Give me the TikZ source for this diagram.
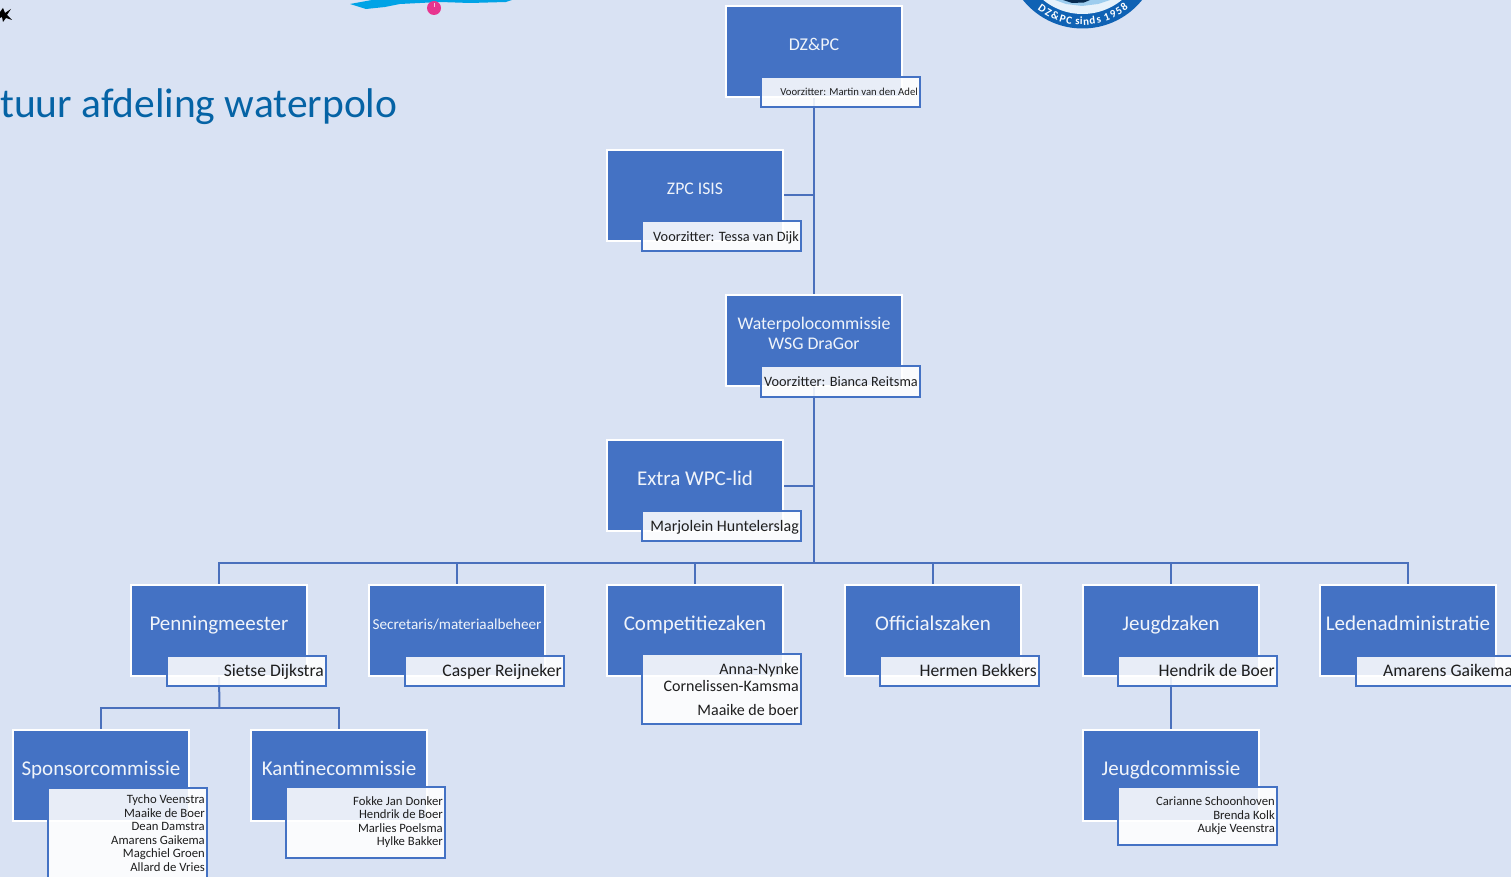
\documentclass[tikz,border=0pt]{standalone}
\usepackage{fontspec}
\setmainfont{Carlito}
\usetikzlibrary{backgrounds,calc}
\definecolor{pagebg}{HTML}{D9E2F3}
\definecolor{orgblue}{HTML}{4472C4}
\definecolor{titleblue}{HTML}{0563A5}
\definecolor{lineblue}{HTML}{4A70BC}
\definecolor{inktext}{HTML}{1E1E1E}
\definecolor{brush}{HTML}{00A3E6}
\definecolor{pinkdot}{HTML}{E8358F}
\definecolor{ringblue}{HTML}{0F62B4}
\definecolor{logolight}{HTML}{E6F2FB}
\definecolor{logowave}{HTML}{9CCDEE}
\tikzset{
  mainbox/.style={draw=white,line width=1.5pt,fill=orgblue,anchor=north west,minimum width=176pt,minimum height=91pt,inner sep=0pt,outer sep=0pt},
  boxtitle/.style={text=white!92!orgblue,inner sep=0pt,align=center},
  subbox/.style={draw=orgblue,line width=1.5pt,fill=white,fill opacity=.88,anchor=north west,minimum width=159pt,inner sep=0pt,outer sep=0pt},
  subtext/.style={text=inktext,inner sep=0pt,anchor=east,align=right},
  link/.style={draw=lineblue,line width=2pt},
  ringchar/.style={text=white,inner sep=0pt,anchor=base,font=\bfseries\fontsize{11}{11}\selectfont}
}
\newcommand{\orgmain}[6]{% name, x, y, size, baseline offset, title
  \node[mainbox] (#1) at (#2,#3) {};
  \node[boxtitle,anchor=base,font=\fontsize{#4}{19.5}\selectfont] (#1t) at ($(#2+88,#3+#5)$) {#6};
}
\newcommand{\orgsub}[8]{% name, x, top, bottom, text centre y, size, leading, text
  \pgfmathsetmacro{\subh}{#4-#3}
  \node[subbox,minimum height=\subh pt] (#1) at (#2,#3) {};
  \node[subtext,font=\fontsize{#6}{#7}\selectfont] (#1t) at (#2+157,#5) {#8};
}
\begin{document}
\begin{tikzpicture}[x=1pt,y=-1pt]
\useasboundingbox (0,0) rectangle (1511,877);
% logos (fragments at the page edge)
\fill[black] (0,12) -- (3,8) -- (5,13) -- (11,9) -- (7,15) -- (12,20) -- (6,18) -- (3,22) -- (2,17) -- (0,18) -- cycle;
\fill[brush] (350,4) -- (372,0) -- (512,0) -- (506,2) -- (470,3) -- (440,2) -- (400,4) -- (385,7) -- (366,9) -- cycle;
\fill[pinkdot] (434,8) circle[radius=7pt];
\fill[white!70!pinkdot] (434,3) rectangle (435,7);
\fill[ringblue] (1082.5,-48) circle[radius=76.5pt];
\fill[logolight] (1082.5,-48) circle[radius=62pt];
\fill[logowave] (1055,0) -- (1110,0) -- (1098,4) -- (1082,6) -- (1066,4) -- cycle;
\fill[black!55!ringblue] (1063,0) -- (1090,0) -- (1084,2.5) -- (1072,3) -- cycle;
\foreach \a/\c [count=\i] in {234.5/D,240.5/Z,247/\&,253.5/P,259/C,266/s,269/i,273/n,278/d,283.5/s,290.5/1,296/9,301.5/5,307/8}{
  \pgfmathsetmacro{\px}{1082.5+73*cos(\a)}
  \pgfmathsetmacro{\py}{-48-73*sin(\a)}
  \pgfmathsetmacro{\rot}{\a-270}
  \node[ringchar,rotate=\rot] (ring\i) at (\px,\py) {\c};
}
% title
\node[text=titleblue,anchor=base east,inner sep=0pt,font=\fontsize{41.5}{41.5}\selectfont] (heading) at (397.5,118) {tuur afdeling waterpolo};
% boxes
\orgmain{dz}{726}{6}{18}{45}{DZ\&PC}
\orgmain{zpc}{607}{150}{17.7}{45}{ZPC ISIS}
\node[mainbox] (wpc) at (726,295) {};
\node[boxtitle,font=\fontsize{17.8}{19.5}\selectfont] (wpct) at (814,333.5) {Waterpolocommissie\\WSG DraGor};
\orgmain{extra}{607}{440}{21}{45.5}{Extra WPC-lid}
\orgmain{penn}{131}{585}{21}{45.5}{Penningmeester}
\orgmain{secr}{369}{585}{15.2}{44}{Secretaris/materiaalbeheer}
\orgmain{comp}{607}{585}{21}{45.5}{Competitiezaken}
\orgmain{offi}{845}{585}{21}{45.5}{Officialszaken}
\orgmain{jeugd}{1083}{585}{21}{45.5}{Jeugdzaken}
\orgmain{leden}{1320}{585}{21}{45.5}{Ledenadministratie}
\orgmain{spons}{13}{730}{21}{45.5}{Sponsorcommissie}
\orgmain{kant}{251}{730}{21}{45.5}{Kantinecommissie}
\orgmain{jcom}{1083}{730}{21}{45.5}{Jeugdcommissie}
% sub boxes
\orgsub{dzs}{761}{77}{107}{91.5}{10.7}{11}{Voorzitter: Martin van den Adel}
\orgsub{zpcs}{642}{221}{251}{237.5}{14.3}{15}{Voorzitter: Tessa van Dijk}
\orgsub{wpcs}{761}{366}{397}{381.5}{14.3}{15}{Voorzitter: Bianca Reitsma}
\orgsub{extras}{642}{511}{541}{527}{16}{17}{Marjolein Huntelerslag}
\orgsub{penns}{167}{656}{686}{672}{17.6}{18}{Sietse Dijkstra}
\orgsub{secrs}{405}{656}{686}{672}{17.6}{18}{Casper Reijneker}
\orgsub{comps}{642}{654}{724}{689.5}{16}{17}{Anna-Nynke\\Cornelissen-Kamsma\\[7pt]Maaike de boer}
\orgsub{offis}{880}{656}{686}{670.5}{17.6}{18}{Hermen Bekkers}
\orgsub{jeugds}{1118}{656}{686}{670.5}{17.6}{18}{Hendrik de Boer}
\orgsub{ledens}{1356}{656}{686}{670.5}{17.6}{18}{Amarens Gaikema}
\orgsub{sponss}{48}{788}{884}{833}{12.7}{13.5}{Tycho Veenstra\\Maaike de Boer\\Dean Damstra\\Amarens Gaikema\\Magchiel Groen\\Allard de Vries}
\orgsub{kants}{286}{787}{858}{822}{12.7}{13.5}{Fokke Jan Donker\\Hendrik de Boer\\Marlies Poelsma\\Hylke Bakker}
\orgsub{jcoms}{1118}{787}{845}{816}{12.7}{13.5}{Carianne Schoonhoven\\Brenda Kolk\\Aukje Veenstra}
% connectors
\coordinate (bus) at (814,563);
\coordinate (pbus) at (219.5,708);
\begin{pgfonlayer}{background}
\fill[pagebg] (0,0) rectangle (1511,877);
\draw[link] (dz.south) -- (wpc.north);
\draw[link] (zpc.east) -- (zpc.east -| dz.south);
\draw[link] (wpc.south) -- (bus);
\draw[link] (extra.east) -- (extra.east -| bus);
\foreach \n in {penn,secr,comp,offi,jeugd,leden}{\draw[link] (bus) -| (\n.north);}
\draw[link] (penn.south) -- (pbus);
\draw[link] (pbus) -| (spons.north);
\draw[link] (pbus) -| (kant.north);
\draw[link] (jeugd.south) -- (jcom.north);
\end{pgfonlayer}
\end{tikzpicture}
\end{document}
